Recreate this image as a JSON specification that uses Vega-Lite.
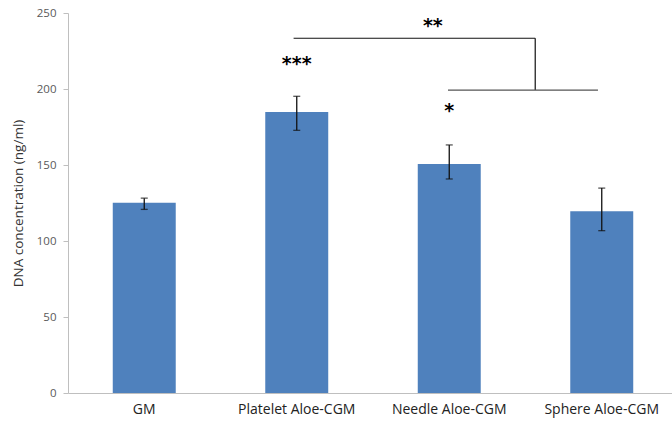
{
  "$schema": "https://vega.github.io/schema/vega-lite/v6.json",
  "autosize": {"type": "none"},
  "padding": {"left": 68, "top": 13, "right": 0, "bottom": 28},
  "width": 604,
  "height": 380,
  "background": "white",
  "config": {"view": {"stroke": null}, "font": "Open Sans"},
  "datasets": {
    "bars": [
      {"group": "GM", "value": 125.2, "lo": 120.8, "hi": 128.2},
      {"group": "Platelet Aloe-CGM", "value": 184.8, "lo": 172.8, "hi": 195.2},
      {"group": "Needle Aloe-CGM", "value": 150.6, "lo": 140.8, "hi": 163.2},
      {"group": "Sphere Aloe-CGM", "value": 119.6, "lo": 106.8, "hi": 134.8}
    ]
  },
  "layer": [
    {
      "data": {"name": "bars"},
      "mark": {"type": "bar", "color": "#4F81BD"},
      "encoding": {
        "x": {
          "field": "group", "type": "nominal", "sort": null,
          "scale": {"domain": ["GM", "Platelet Aloe-CGM", "Needle Aloe-CGM", "Sphere Aloe-CGM"], "range": [0, 610], "paddingInner": 0.587, "paddingOuter": 0.2935},
          "axis": {
            "title": null, "labelAngle": 0, "ticks": false, "domainColor": "#BFBFBF",
            "labelColor": "#222222", "labelFontSize": 14, "labelPadding": 9, "labelFont": "Open Sans"
          }
        },
        "y": {
          "field": "value", "type": "quantitative",
          "scale": {"domain": [0, 250], "nice": false},
          "axis": {
            "title": "DNA concentration (ng/ml)", "values": [0, 50, 100, 150, 200, 250],
            "grid": false, "domainColor": "#BFBFBF", "tickColor": "#BFBFBF", "tickSize": 5,
            "labelColor": "#595959", "labelFontSize": 11.5, "labelPadding": 7,
            "titleFontSize": 13.5, "titleFontWeight": "normal", "titleColor": "#333333", "titlePadding": 11
          }
        }
      }
    },
    {
      "data": {"name": "bars"},
      "mark": {"type": "rule", "color": "#111111", "strokeWidth": 1.3},
      "encoding": {
        "x": {"field": "group", "type": "nominal", "sort": null},
        "y": {"field": "lo", "type": "quantitative"},
        "y2": {"field": "hi"}
      }
    },
    {
      "data": {"name": "bars"},
      "mark": {"type": "tick", "color": "#111111", "size": 7, "thickness": 1.3},
      "encoding": {
        "x": {"field": "group", "type": "nominal", "sort": null},
        "y": {"field": "lo", "type": "quantitative"}
      }
    },
    {
      "data": {"name": "bars"},
      "mark": {"type": "tick", "color": "#111111", "size": 7, "thickness": 1.3},
      "encoding": {
        "x": {"field": "group", "type": "nominal", "sort": null},
        "y": {"field": "hi", "type": "quantitative"}
      }
    },
    {
      "data": {"values": [{"a": "Platelet Aloe-CGM", "b": "Needle Aloe-CGM", "v": 233.4}]},
      "mark": {"type": "rule", "color": "#111111", "strokeWidth": 1.2},
      "encoding": {
        "x": {"field": "a", "type": "nominal", "bandPosition": 0.45},
        "x2": {"field": "b", "bandPosition": 1.865},
        "y": {"field": "v", "type": "quantitative"}
      }
    },
    {
      "data": {"values": [{"a": "Needle Aloe-CGM", "v1": 199.3, "v2": 233.4}]},
      "mark": {"type": "rule", "color": "#111111", "strokeWidth": 1.2},
      "encoding": {
        "x": {"field": "a", "type": "nominal", "bandPosition": 1.865},
        "y": {"field": "v1", "type": "quantitative"},
        "y2": {"field": "v2"}
      }
    },
    {
      "data": {"values": [{"a": "Needle Aloe-CGM", "b": "Sphere Aloe-CGM", "v": 199.3}]},
      "mark": {"type": "rule", "color": "#555555", "strokeWidth": 1.2},
      "encoding": {
        "x": {"field": "a", "type": "nominal", "bandPosition": 0.48},
        "x2": {"field": "b", "bandPosition": 0.44},
        "y": {"field": "v", "type": "quantitative"}
      }
    },
    {
      "data": {"values": [
        {"g": "Platelet Aloe-CGM", "v": 219.7, "label": "***"},
        {"g": "Needle Aloe-CGM", "v": 188.8, "label": "*"}
      ]},
      "mark": {"type": "text", "font": "DejaVu Sans", "fontWeight": "bold", "fontSize": 19, "baseline": "middle", "dy": 5, "color": "#000000"},
      "encoding": {
        "x": {"field": "g", "type": "nominal", "bandPosition": 0.5},
        "y": {"field": "v", "type": "quantitative"},
        "text": {"field": "label"}
      }
    },
    {
      "data": {"values": [{"g": "Needle Aloe-CGM", "v": 244.7, "label": "**"}]},
      "mark": {"type": "text", "font": "DejaVu Sans", "fontWeight": "bold", "fontSize": 19, "baseline": "middle", "dy": 5, "color": "#000000"},
      "encoding": {
        "x": {"field": "g", "type": "nominal", "bandPosition": 0.24},
        "y": {"field": "v", "type": "quantitative"},
        "text": {"field": "label"}
      }
    }
  ]
}
